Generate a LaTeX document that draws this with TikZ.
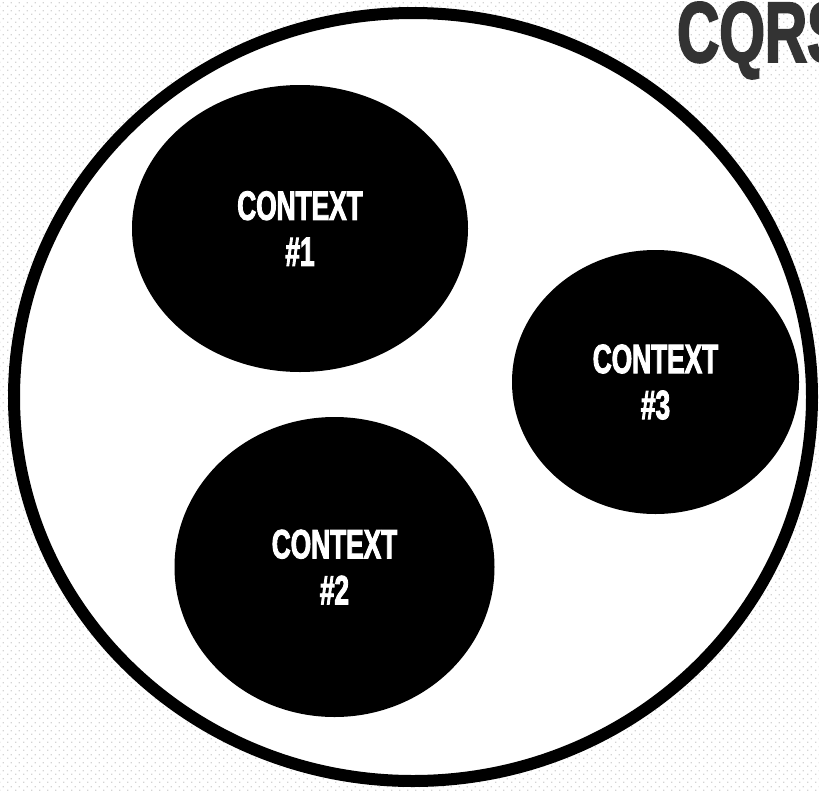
\documentclass[tikz,border=0pt]{standalone}
\usepackage{fontspec}
\usepackage{tikz}
\usetikzlibrary{shapes.geometric,patterns}
\newfontfamily\narrowfont[FakeStretch=0.64,FakeBold=2.2]{Liberation Sans Bold}
\newfontfamily\titlefont[FakeStretch=0.68,FakeBold=2.2]{Liberation Sans Bold}
\definecolor{ttl}{RGB}{51,51,51}
\definecolor{dotc}{RGB}{212,212,212}
\pgfdeclarepatternformonly{bgdots}{\pgfpointorigin}{\pgfpoint{8pt}{8pt}}{\pgfpoint{8pt}{8pt}}{%
  \pgfpathrectangle{\pgfpoint{0pt}{0pt}}{\pgfpoint{1.6pt}{1.6pt}}%
  \pgfpathrectangle{\pgfpoint{4pt}{4pt}}{\pgfpoint{1.6pt}{1.6pt}}%
  \pgfusepath{fill}}
\tikzset{
  ctx/.style={ellipse,fill=black,inner sep=0pt,text=white,align=center,
    font=\narrowfont\fontsize{41}{46}\selectfont},
}

\begin{document}
\begin{tikzpicture}[x=1pt,y=-1pt]
  % page and dotted backdrop
  \useasboundingbox (0,0) rectangle (819,790);
  \fill[pattern=bgdots,pattern color=dotc] (0,0) rectangle (819,790);
  \node[font=\titlefont\fontsize{86}{86}\selectfont,text=ttl,anchor=base west,inner sep=0pt] (title) at (677,62) {CQRS};
  % bounded domain with its contexts
  \node[ellipse,draw,line width=12pt,fill=white,inner sep=0pt,minimum width=798pt,minimum height=768pt] (domain) at (413,397) {};
  \node[ctx,minimum width=336pt,minimum height=287pt] (ctxa) at (300,228.5) {CONTEXT\\\#1};
  \node[ctx,minimum width=320pt,minimum height=300pt] (ctxb) at (334.5,567) {CONTEXT\\\#2};
  \node[ctx,minimum width=287pt,minimum height=264pt] (ctxc) at (655.5,382) {CONTEXT\\\#3};
\end{tikzpicture}
\end{document}
